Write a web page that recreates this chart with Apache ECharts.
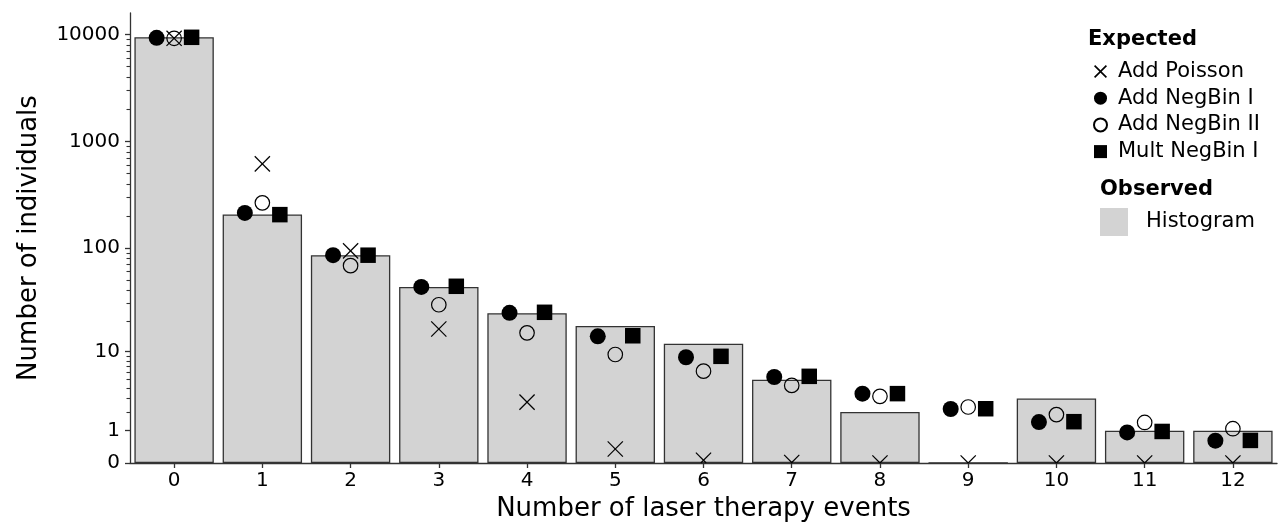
<!DOCTYPE html>
<html>
<head>
<meta charset="utf-8">
<script src="https://cdn.jsdelivr.net/npm/echarts@6/dist/echarts.min.js"></script>
<style>
html,body{margin:0;padding:0;background:#fff;}
#chart{width:1282px;height:527px;}
</style>
</head>
<body>
<div id="chart"></div>
<script>
// ---- data ----
const categories = ['0','1','2','3','4','5','6','7','8','9','10','11','12'];
const observed   = [9420, 208, 86, 43, 24, 18, 12, 5, 2, 0, 3, 1, 1];
const addPoisson = [9200, 618, 94.5, 16.8, 2.7, 0.35, 0.06, 0.01, 0.001, 0, 0, 0, 0];
const addNegBin1 = [9300, 215, 86, 43, 24.2, 14.2, 8.7, 5.35, 3.44, 2.19, 1.41, 0.93, 0.615];
const addNegBin2 = [9200, 267, 68.5, 29, 15.4, 9.3, 6.2, 4.3, 3.19, 2.33, 1.83, 1.39, 1.09];
const multNegBin1= [9400, 207, 86, 43.6, 24.5, 14.4, 8.9, 5.44, 3.44, 2.21, 1.43, 0.97, 0.625];
const majorTicks = [0, 1, 10, 100, 1000, 10000];
const minorTicks = [2,3,4,5,6,7,8,9, 20,30,40,50,60,70,80,90, 200,300,400,500,600,700,800,900, 2000,3000,4000,5000,6000,7000,8000,9000];

// y scale: log10(1 + count)
const tf = v => Math.log10(1 + v);
const FONT = 'DejaVu Sans';
const crossPath = 'path://M0,0.9L0.9,0L5,4.1L9.1,0L10,0.9L5.9,5L10,9.1L9.1,10L5,5.9L0.9,10L0,9.1L4.1,5Z';

const chart = echarts.init(document.getElementById('chart'), null, {renderer: 'canvas'});

const yCommon = {type: 'value', min: 0, max: 4.2, position: 'left', splitLine: {show: false}};

const option = {
  animation: false,
  backgroundColor: '#fff',
  textStyle: {fontFamily: FONT, color: '#000'},
  title: [
    {text: 'Expected', left: 1088, top: 29, padding: 0,
     textStyle: {fontFamily: FONT, fontSize: 21, fontWeight: 'bold', color: '#000'}},
    {text: 'Observed', left: 1100, top: 179, padding: 0,
     textStyle: {fontFamily: FONT, fontSize: 21, fontWeight: 'bold', color: '#000'}}
  ],
  legend: [
    {
      data: [
        {name: 'Add Poisson', icon: crossPath, itemStyle: {color: '#000', borderWidth: 0}},
        {name: 'Add NegBin I', icon: 'circle'},
        {name: 'Add NegBin II', icon: 'circle'},
        {name: 'Mult NegBin I', icon: 'rect'}
      ],
      orient: 'vertical', left: 1093, top: 61, padding: 0,
      itemWidth: 13, itemHeight: 13, itemGap: 5.7, selectedMode: false,
      textStyle: {fontFamily: FONT, fontSize: 21, color: '#000', padding: [0, 0, 0, 6]}
    },
    {
      data: [{name: 'Histogram', icon: 'rect', itemStyle: {color: '#d3d3d3', borderWidth: 0}}],
      orient: 'vertical', left: 1100, top: 208, padding: 0,
      itemWidth: 28, itemHeight: 28, selectedMode: false,
      textStyle: {fontFamily: FONT, fontSize: 21, color: '#000', padding: [0, 0, 0, 13]}
    }
  ],
  grid: {left: 130, right: 5, top: 13, bottom: 64, containLabel: false},
  xAxis: {
    type: 'category', data: categories, boundaryGap: true,
    axisLine: {show: true, lineStyle: {color: '#333', width: 1.3}},
    axisTick: {show: true, alignWithLabel: true, length: 5, lineStyle: {color: '#333', width: 1.3}},
    axisLabel: {fontFamily: FONT, fontSize: 20, color: '#000', margin: 8},
    name: 'Number of laser therapy events', nameLocation: 'middle', nameGap: 31,
    nameTextStyle: {fontFamily: FONT, fontSize: 26, color: '#000'},
    splitLine: {show: false}
  },
  yAxis: [
    Object.assign({}, yCommon, {
      axisLine: {show: true, lineStyle: {color: '#333', width: 1.3}},
      axisTick: {show: true, length: 5, customValues: majorTicks.map(tf), lineStyle: {color: '#333', width: 1.3}},
      axisLabel: {show: true, customValues: majorTicks.map(tf), fontFamily: FONT, fontSize: 20, color: '#000', margin: 10,
        formatter: v => String(Math.round(Math.pow(10, v) - 1))},
      name: 'Number of individuals', nameLocation: 'middle', nameGap: 88,
      nameTextStyle: {fontFamily: FONT, fontSize: 26, color: '#000'}
    }),
    Object.assign({}, yCommon, {
      axisLine: {show: false},
      axisTick: {show: true, length: 3.5, customValues: minorTicks.map(tf), lineStyle: {color: '#333', width: 1.1}},
      axisLabel: {show: false}
    })
  ],
  series: [
    {
      name: 'Histogram', type: 'bar', data: observed.map(tf), barWidth: '90%', z: 1,
      itemStyle: {color: '#d3d3d3', borderColor: '#333', borderWidth: 1.3}
    },
    {
      name: 'Add NegBin I', type: 'scatter', data: addNegBin1.map(tf), z: 3,
      symbol: 'circle', symbolSize: 16, symbolOffset: [-17.5, 0],
      itemStyle: {color: '#000', opacity: 1}
    },
    {
      name: 'Add NegBin II', type: 'scatter', data: addNegBin2.map(tf), z: 3,
      symbol: 'circle', symbolSize: 14.5,
      itemStyle: {color: 'rgba(0,0,0,0)', borderColor: '#000', borderWidth: 1.2, opacity: 1}
    },
    {
      name: 'Mult NegBin I', type: 'scatter', data: multNegBin1.map(tf), z: 3,
      symbol: 'rect', symbolSize: 15.5, symbolOffset: [17.5, 0],
      itemStyle: {color: '#000', opacity: 1}
    },
    {
      name: 'Add Poisson', type: 'custom', z: 4,
      data: addPoisson.map((v, i) => [i, tf(v)]),
      encode: {x: 0, y: 1},
      itemStyle: {color: '#000'},
      renderItem: function (params, api) {
        const p = api.coord([api.value(0), api.value(1)]);
        const h = 7.6;
        const bottom = params.coordSys.y + params.coordSys.height;
        function seg(x1, y1, x2, y2) {
          if (y2 > bottom) {
            const t = (bottom - y1) / (y2 - y1);
            x2 = x1 + t * (x2 - x1); y2 = bottom;
          }
          return {type: 'line', shape: {x1: x1, y1: y1, x2: x2, y2: y2},
                  style: {stroke: '#000', lineWidth: 1.2}};
        }
        return {type: 'group', children: [
          seg(p[0] - h, p[1] - h, p[0] + h, p[1] + h),
          seg(p[0] + h, p[1] - h, p[0] - h, p[1] + h)
        ]};
      }
    }
  ]
};
chart.setOption(option);
</script>
</body>
</html>
